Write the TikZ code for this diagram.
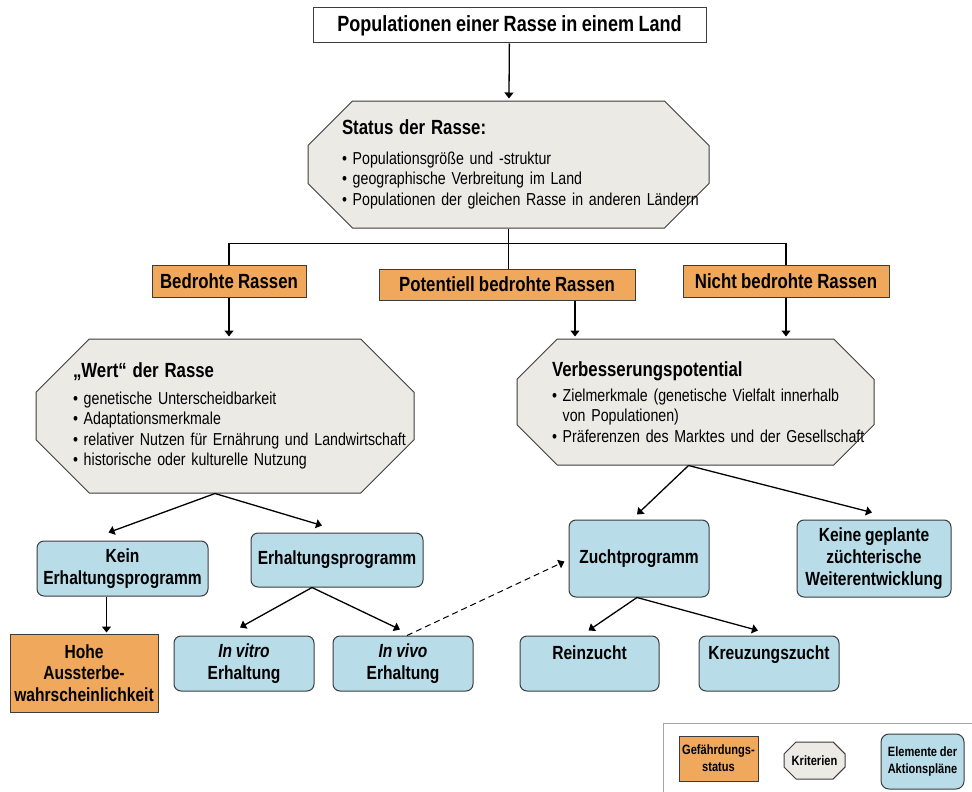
\documentclass[tikz,border=0pt]{standalone}
\usepackage{fontspec}
\IfFontExistsTF{Liberation Sans Narrow}{\setmainfont{Liberation Sans Narrow}[WordSpace=0.9]}{\setmainfont{Liberation Sans}[FakeStretch=0.82,WordSpace=0.9]}
\usepackage{tikz}
\usetikzlibrary{arrows.meta,shapes.misc}

\definecolor{orangeF}{RGB}{240,168,92}
\definecolor{grauF}{RGB}{236,234,229}
\definecolor{blauF}{RGB}{184,220,232}
\definecolor{rand}{RGB}{60,60,60}

\tikzset{
  gefahr/.style={draw=rand,fill=orangeF,line width=1pt,inner sep=0pt,font=\bfseries\fontsize{20.5}{23}\selectfont},
  kriterium/.style={chamfered rectangle,draw=rand,fill=grauF,line width=1pt,align=left,font=\fontsize{17.3}{20.5}\selectfont},
  aktion/.style={draw=rand,fill=blauF,line width=1pt,rounded corners=7pt,inner sep=0pt,align=center,font=\bfseries\fontsize{19}{22}\selectfont},
  pfeil/.style={draw=black,line width=1.3pt,-{Triangle[length=6pt,width=9pt]}},
  linie/.style={draw=black,line width=1.3pt},
  klein/.style={font=\bfseries\fontsize{13.5}{17}\selectfont}
}

\begin{document}
\begin{tikzpicture}[x=1pt,y=-1pt]
\useasboundingbox (0,0) rectangle (972,792);

\node[draw=rand,line width=1pt,fill=white,inner sep=0pt,minimum width=393pt,minimum height=35pt,font=\bfseries\fontsize{22}{26}\selectfont] (land) at (509.5,25.5) {Populationen einer Rasse in einem Land};

\node[kriterium,chamfered rectangle xsep=34pt,chamfered rectangle ysep=35pt,inner xsep=-34pt,inner ysep=-35pt,minimum width=401pt,minimum height=127pt,text width=333pt] (rasse) at (508.5,164.5)
  {{\bfseries\fontsize{20.5}{24}\selectfont Status der Rasse:}\\[9pt]
   \mbox{\textbullet\ Populationsgröße und -struktur}\\
   \mbox{\textbullet\ geographische Verbreitung im Land}\\
   \mbox{\textbullet\ Populationen der gleichen Rasse in anderen Ländern}};

\node[gefahr,minimum width=154pt,minimum height=32pt] (bedroht) at (229,281) {Bedrohte Rassen};
\node[gefahr,minimum width=256pt,minimum height=31pt] (potentiell) at (507,284.5) {Potentiell bedrohte Rassen};
\node[gefahr,minimum width=206pt,minimum height=32pt] (nicht) at (786,281) {Nicht bedrohte Rassen};

\node[kriterium,chamfered rectangle xsep=37pt,chamfered rectangle ysep=44pt,inner xsep=-37pt,inner ysep=-44pt,minimum width=378pt,minimum height=154pt,text width=304pt] (wert) at (225,416)
  {{\bfseries\fontsize{20.5}{24}\selectfont „Wert“ der Rasse}\\[6pt]
   \mbox{\textbullet\ genetische Unterscheidbarkeit}\\
   \mbox{\textbullet\ Adaptationsmerkmale}\\
   \mbox{\textbullet\ relativer Nutzen für Ernährung und Landwirtschaft}\\
   \mbox{\textbullet\ historische oder kulturelle Nutzung}};

\node[kriterium,chamfered rectangle xsep=35pt,chamfered rectangle ysep=37pt,inner xsep=-35pt,inner ysep=-37pt,minimum width=357pt,minimum height=126pt,text width=287pt] (verbesserung) at (695.5,402)
  {{\bfseries\fontsize{20.5}{24}\selectfont Verbesserungspotential}\\[4pt]
   \mbox{\textbullet\ Zielmerkmale (genetische Vielfalt innerhalb}\\
   \mbox{\phantom{\textbullet\ }von Populationen)}\\
   \mbox{\textbullet\ Präferenzen des Marktes und der Gesellschaft}};

\node[aktion,minimum width=171pt,minimum height=55pt] (kein) at (122.5,568.5) {Kein\\Erhaltungsprogramm};
\node[aktion,minimum width=172pt,minimum height=54pt] (erhaltung) at (337,560) {Erhaltungsprogramm};
\node[gefahr,align=center,font=\bfseries\fontsize{19}{21.5}\selectfont,minimum width=148pt,minimum height=78pt] (hohe) at (84,673) {Hohe\\Aussterbe-\\wahrscheinlichkeit};
\node[aktion,minimum width=140pt,minimum height=55pt] (vitro) at (244,663.5) {\textit{In vitro}\\Erhaltung};
\node[aktion,minimum width=140pt,minimum height=55pt] (vivo) at (403,663.5) {\textit{In vivo}\\Erhaltung};
\node[aktion,minimum width=140pt,minimum height=77pt] (zucht) at (639,558.5) {Zuchtprogramm};
\node[aktion,minimum width=154pt,minimum height=77pt] (keine) at (874,558.5) {Keine geplante\\züchterische\\Weiterentwicklung};
\node[aktion,minimum width=139pt,minimum height=55pt] (rein) at (589.5,663.5) {Reinzucht\\\mbox{}};
\node[aktion,minimum width=140pt,minimum height=55pt] (kreuz) at (769,663.5) {Kreuzungszucht\\\mbox{}};

\draw[pfeil,shorten >=2pt] (land) -- (rasse);
\coordinate (verteiler) at ([yshift=-15pt]rasse.south);
\draw[linie] (rasse.south) -- (verteiler);
\draw[linie] (bedroht.north) |- (verteiler) -| (nicht.north);
\draw[linie] (verteiler) -- (verteiler |- potentiell.north);
\draw[pfeil,shorten >=2pt] (bedroht.south) -- (bedroht.south |- wert.north);
\draw[pfeil,shorten >=2pt] ([xshift=68pt]potentiell.south) -- ([xshift=68pt]potentiell.south |- verbesserung.north);
\draw[pfeil,shorten >=2pt] (nicht.south) -- (nicht.south |- verbesserung.north);

\draw[pfeil] ([xshift=-10pt]wert.south) -- ([xshift=-14pt,yshift=8pt]kein.north);
\draw[pfeil] ([xshift=-10pt]wert.south) -- ([xshift=-15pt,yshift=7pt]erhaltung.north);
\draw[pfeil,shorten >=1pt] ([xshift=-16pt]kein.south) -- ([xshift=-16pt]kein.south |- hohe.north);
\draw[pfeil] ([xshift=-25pt]erhaltung.south) -- ([xshift=-4pt,yshift=8pt]vitro.north);
\draw[pfeil] ([xshift=-25pt]erhaltung.south) -- ([xshift=-3pt,yshift=6pt]vivo.north);
\draw[pfeil,line width=1pt,dash pattern=on 6pt off 4pt] ([xshift=4pt]vivo.north) -- ([xshift=-4pt,yshift=-3pt]zucht.west);

\draw[pfeil] ([xshift=-7pt]verbesserung.south) -- ([xshift=-2pt,yshift=5pt]zucht.north);
\draw[pfeil] ([xshift=-7pt]verbesserung.south) -- ([xshift=-2pt,yshift=7pt]keine.north);
\draw[pfeil] ([xshift=-2pt]zucht.south) -- ([xshift=-1pt,yshift=5pt]rein.north);
\draw[pfeil] ([xshift=-2pt]zucht.south) -- ([xshift=-11pt,yshift=5pt]kreuz.north);

\draw[draw=gray!70,line width=1pt] (663,792) |- (972,723);
\node[gefahr,klein,align=center,minimum width=79pt,minimum height=45pt] (lgefahr) at (718.5,758.5) {Gefährdungs-\\status};
\node[kriterium,klein,align=center,chamfered rectangle xsep=7pt,chamfered rectangle ysep=7pt,inner sep=0pt,minimum width=61pt,minimum height=37pt] (lkriterium) at (814.5,760.5) {Kriterien};
\node[aktion,klein,rounded corners=8pt,minimum width=83pt,minimum height=55pt] (laktion) at (922.5,761.5) {Elemente der\\Aktionspläne};
\end{tikzpicture}
\end{document}
